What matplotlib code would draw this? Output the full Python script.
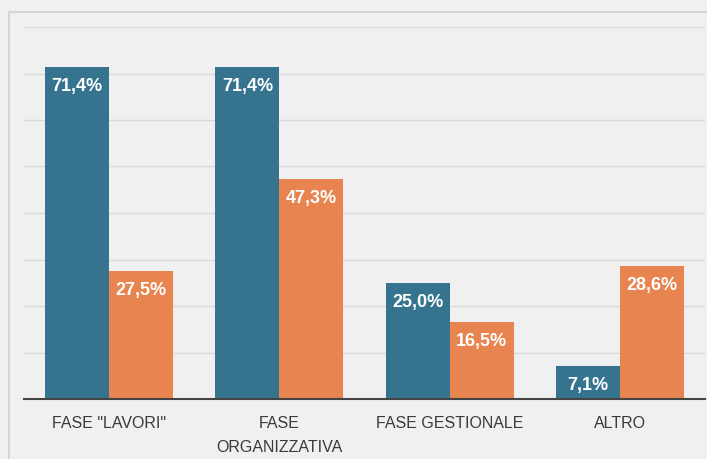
import matplotlib
matplotlib.use("Agg")
import matplotlib.pyplot as plt
import numpy as np
from matplotlib.patches import Rectangle

# Dati
categorie = ['FASE "LAVORI"', 'FASE\nORGANIZZATIVA', 'FASE GESTIONALE', 'ALTRO']
serie_blu = [71.4, 71.4, 25.0, 7.1]
serie_arancio = [27.5, 47.3, 16.5, 28.6]

BLU = '#36738f'
ARANCIO = '#e8844f'
SFONDO = '#f0f0f0'

plt.rcParams['font.family'] = ['Liberation Sans', 'DejaVu Sans']

fig = plt.figure(figsize=(7.07, 4.59), dpi=100, facecolor=SFONDO)
ax = fig.add_axes([24 / 707, 60 / 459, 681 / 707, 372 / 459])
ax.set_facecolor(SFONDO)

# cornice esterna
fig.patches.append(Rectangle((9 / 707, -0.1), 1.2, 0.1 + (459 - 12) / 459,
                             transform=fig.transFigure, fill=False,
                             edgecolor='#d0d0d0', linewidth=1.2))

x = np.arange(len(categorie))
w = 0.376
b1 = ax.bar(x - w / 2, serie_blu, w, color=BLU, zorder=3)
b2 = ax.bar(x + w / 2, serie_arancio, w, color=ARANCIO, zorder=3)

def etichette(bars, valori):
    for r, v in zip(bars, valori):
        ax.annotate(f"{v:.1f}".replace('.', ',') + '%',
                    (r.get_x() + r.get_width() / 2, r.get_height()),
                    xytext=(0, -17.2), textcoords='offset points',
                    ha='center', va='baseline', color='white',
                    fontsize=13, fontweight='bold', zorder=4)

etichette(b1, serie_blu)
etichette(b2, serie_arancio)

ax.set_xlim(-0.5, 3.5)
ax.set_ylim(0, 80)
ax.set_yticks(np.arange(10, 81, 10))
ax.yaxis.grid(True, color='#d9d9d9', linewidth=1, zorder=0)
ax.tick_params(axis='y', left=False, labelleft=False)
ax.set_xticks(x)
ax.set_xticklabels(categorie, fontsize=11.5, color='#3a3a3a', linespacing=1.75)
ax.tick_params(axis='x', length=0, pad=12)
for s in ['top', 'right', 'left']:
    ax.spines[s].set_visible(False)
ax.spines['bottom'].set_color('#444444')
ax.spines['bottom'].set_linewidth(1.5)
ax.spines['bottom'].set_zorder(5)

fig.savefig('out.png', dpi=100, facecolor=SFONDO)
